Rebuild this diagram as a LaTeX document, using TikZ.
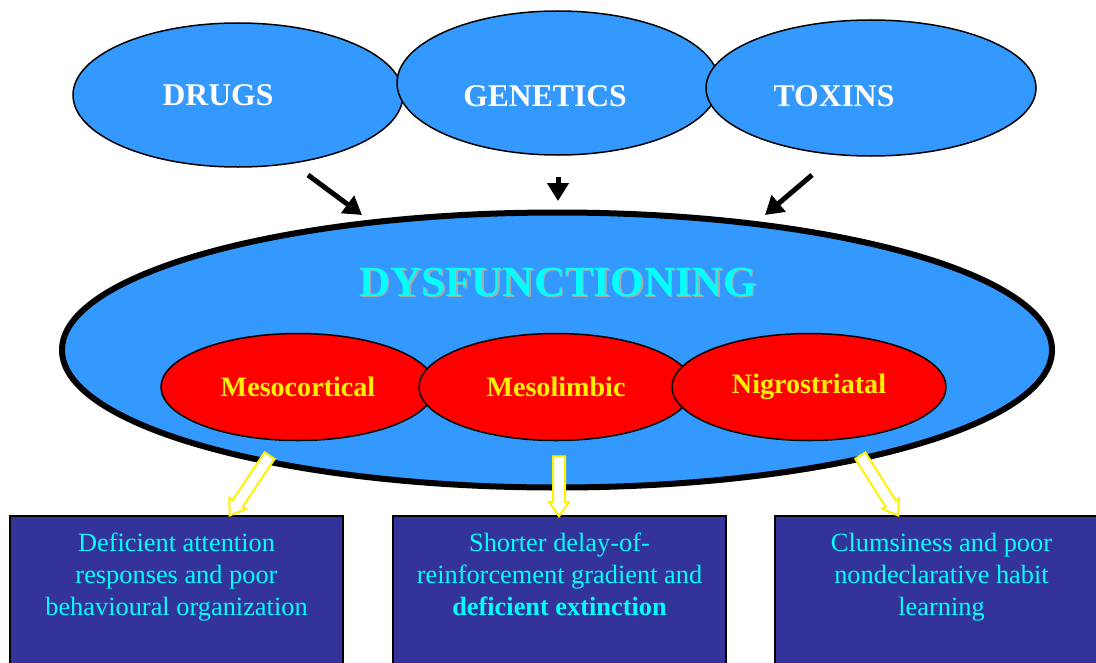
\documentclass[tikz,border=0pt]{standalone}
\usepackage{fontspec}
\setmainfont{Liberation Serif}
\usetikzlibrary{shapes.geometric,shapes.arrows,arrows.meta,positioning}
\definecolor{skyblue}{HTML}{3399FF}
\definecolor{boxblue}{HTML}{333399}
\definecolor{aqua}{HTML}{00FFFF}
\definecolor{shadegray}{HTML}{A8A8A8}

\tikzset{
	cause/.style={ellipse, draw, line width=0.3mm, fill=skyblue},
	causetext/.style={text=white, font=\fontsize{18}{20}\selectfont\bfseries},
	region/.style={ellipse, draw, line width=0.3mm, fill=red, text=yellow, minimum width=54.8mm, minimum height=21.4mm, font=\fontsize{16}{18}\selectfont\bfseries},
	outcome/.style={rectangle, draw, line width=0.4mm, fill=boxblue, minimum width=66.6mm, minimum height=36.8mm},
	outtext/.style={text=aqua, align=center, inner sep=0pt, font=\fontsize{15}{18.2}\selectfont},
	push/.style={line width=1mm, -{Triangle[length=3.6mm,width=4.2mm]}},
	hollow/.style={single arrow, draw=yellow, fill=white, line width=0.4mm, inner sep=1mm, single arrow head extend=0.8mm, single arrow tip angle=70}
}

\begin{document}
\begin{tikzpicture}[x=0.2mm, y=-0.2mm]
	\useasboundingbox (0,0) rectangle (1096,662);
	\clip (0,0) rectangle (1096,662);

	% causes
	\node[cause, minimum width=66mm, minimum height=28.8mm, label={[causetext, xshift=-4mm]center:DRUGS}] (drugs) at (238,95) {};
	\node[cause, minimum width=64.4mm, minimum height=28.8mm, label={[causetext, xshift=-2.6mm, yshift=-2.6mm]center:GENETICS}] (genetics) at (558,83) {};
	\node[cause, minimum width=66mm, minimum height=27.2mm, label={[causetext, xshift=-7.4mm, yshift=-1.6mm]center:TOXINS}] (toxins) at (871,88) {};

	\coordinate (drugsout) at (308,175);
	\coordinate (drugsin) at (362,215);
	\coordinate (genout) at (558,177);
	\coordinate (genin) at (558,201);
	\coordinate (toxout) at (812,175);
	\coordinate (toxin) at (765,215);
	\draw[push] (drugsout) -- (drugsin);
	\draw[push] (genout) -- (genin);
	\draw[push] (toxout) -- (toxin);

	% dopamine systems
	\node[ellipse, draw, line width=1.2mm, fill=skyblue, minimum width=198mm, minimum height=55mm] (dysf) at (557,350) {};
	\node[text=shadegray, font=\fontsize{24.5}{26}\selectfont\bfseries] (titleshade) at (559.5,283.5) {DYSFUNCTIONING};
	\node[text=aqua, font=\fontsize{24.5}{26}\selectfont\bfseries] (title) at (558,282) {DYSFUNCTIONING};

	\node[region] (meso) at (298,387) {Mesocortical};
	\node[region] (limbic) at (556,387) {Mesolimbic};
	\node[region] (nigro) at (809,387) {Nigrostriatal};

	% outcomes
	\node[outcome] (attnbox) at (176.5,608) {};
	\node[outcome] (delaybox) at (559.5,608) {};
	\node[outcome] (habitbox) at (941.5,608) {};
	\node[outtext, below=3.6mm of attnbox.north] (attntext) {Deficient attention\\responses and poor\\behavioural organization};
	\node[outtext, below=3.6mm of delaybox.north] (delaytext) {Shorter delay-of-\\reinforcement gradient and\\\textbf{deficient extinction}};
	\node[outtext, below=3.6mm of habitbox.north] (habittext) {Clumsiness and poor\\nondeclarative habit\\learning};

	\node[hollow, minimum height=14.4mm, rotate=-123.7] (attnarrow) at (252,482) {};
	\node[hollow, minimum height=12mm, rotate=-90] (delayarrow) at (559,482) {};
	\node[hollow, minimum height=14.2mm, rotate=-57.7] (habitarrow) at (877,482) {};
\end{tikzpicture}
\end{document}
